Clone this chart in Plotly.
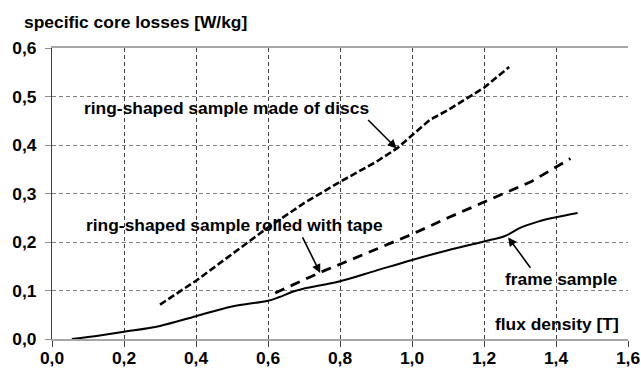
import plotly.graph_objects as go

# Data
disc_x = [0.30, 0.40, 0.50, 0.60, 0.70, 0.80, 0.90, 0.96, 1.00, 1.05, 1.10, 1.20, 1.27]
disc_y = [0.071, 0.120, 0.175, 0.230, 0.280, 0.324, 0.365, 0.394, 0.420, 0.452, 0.472, 0.518, 0.561]

tape_x = [0.62, 0.70, 0.75, 0.80, 0.90, 1.00, 1.10, 1.20, 1.33, 1.44]
tape_y = [0.095, 0.123, 0.139, 0.154, 0.185, 0.216, 0.250, 0.282, 0.324, 0.372]

frame_x = [0.055, 0.10, 0.20, 0.30, 0.40, 0.50, 0.60, 0.63, 0.67, 0.70, 0.80, 0.90, 1.00, 1.10, 1.20, 1.26, 1.30, 1.35, 1.40, 1.46]
frame_y = [0.000, 0.004, 0.015, 0.027, 0.047, 0.067, 0.079, 0.086, 0.098, 0.104, 0.119, 0.141, 0.163, 0.183, 0.201, 0.213, 0.229, 0.242, 0.251, 0.260]

x_ticks = [0.0, 0.2, 0.4, 0.6, 0.8, 1.0, 1.2, 1.4, 1.6]
y_ticks = [0.0, 0.1, 0.2, 0.3, 0.4, 0.5, 0.6]

y_title = "specific core losses [W/kg]"
x_title = "flux density [T]"
label_discs = "ring-shaped sample made of discs"
label_tape = "ring-shaped sample rolled with tape"
label_frame = "frame sample"

FONT = "Liberation Sans, Arial, sans-serif"
FS = 17.4

fig = go.Figure()
fig.add_trace(go.Scatter(x=disc_x, y=disc_y, mode="lines",
                         line=dict(color="black", width=2.6, dash="7px,3px")))
fig.add_trace(go.Scatter(x=tape_x, y=tape_y, mode="lines",
                         line=dict(color="black", width=2.8, dash="10px,7px")))
fig.add_trace(go.Scatter(x=frame_x, y=frame_y, mode="lines", line_shape="spline",
                         line=dict(color="black", width=2)))

bold = dict(family=FONT, size=FS, color="black", weight="bold")

def label(text, x, y):
    fig.add_annotation(x=x, y=y, xref="x", yref="y", text=text, showarrow=False,
                       xanchor="left", yanchor="middle", font=bold)

label(label_discs, 0.083, 0.476)
label(label_tape, 0.088, 0.235)
label(label_frame, 1.253, 0.124)
label(x_title, 1.224, 0.031)

def arrow(tx, ty, hx, hy):
    fig.add_annotation(x=hx, y=hy, ax=tx, ay=ty, xref="x", yref="y", axref="x", ayref="y",
                       text="", showarrow=True, arrowhead=2, arrowsize=1.1,
                       arrowwidth=1.6, arrowcolor="black")

arrow(0.874, 0.4546, 0.957, 0.393)
arrow(0.694, 0.2128, 0.745, 0.136)
arrow(1.332, 0.144, 1.267, 0.2095)

fig.add_annotation(x=-0.052, y=1.088, xref="paper", yref="paper", text=y_title,
                   showarrow=False, xanchor="left", yanchor="middle", font=bold)

fig.update_layout(
    width=641, height=368,
    margin=dict(l=52, r=13, t=48, b=29),
    paper_bgcolor="white", plot_bgcolor="white",
    showlegend=False,
    separators=", ",
    font=dict(family=FONT, size=FS, color="black"),
)
fig.update_xaxes(
    range=[0, 1.6], tickvals=x_ticks, tickformat=".1f", automargin=False,
    tickfont=dict(family=FONT, size=FS, color="black", weight="bold"),
    ticklabelstandoff=-4,
    showgrid=True, gridcolor="#404040", griddash="4px,3px", gridwidth=1,
    zeroline=False, showline=True, linecolor="#a6a6a6", linewidth=1.5, mirror=True,
    ticks="outside", ticklen=6, tickcolor="#404040", tickwidth=1,
)
fig.update_yaxes(
    range=[0, 0.6], tickvals=y_ticks, tickformat=".1f", automargin=False,
    tickfont=dict(family=FONT, size=FS, color="black", weight="bold"),
    ticklabelstandoff=5,
    showgrid=True, gridcolor="#808080", griddash="4px,3px", gridwidth=1,
    zeroline=False, showline=True, linecolor="#404040", linewidth=1,
    ticks="outside", ticklen=6, tickcolor="#909090", tickwidth=1,
)

fig.write_html("out.html")
